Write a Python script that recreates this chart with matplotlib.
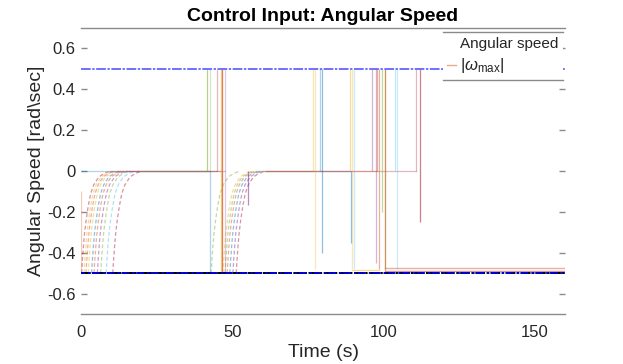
import matplotlib
matplotlib.use("Agg")
import matplotlib.pyplot as plt
from matplotlib.lines import Line2D

plt.rcParams['font.family'] = ['Liberation Sans', 'DejaVu Sans']
plt.rcParams['axes.unicode_minus'] = False
plt.rcParams['mathtext.fontset'] = 'custom'
plt.rcParams['mathtext.rm'] = 'Liberation Sans'
plt.rcParams['mathtext.it'] = 'Liberation Sans:italic'

# MATLAB default colour order
BLUE, ORANGE, YELLOW, PURPLE, GREEN, CYAN, RED = (
    '#0072BD', '#D95319', '#EDB120', '#7E2F8E', '#77AC30', '#4DBEEE', '#A2142F')

# ---------------- data ----------------
T_END = 160.0
W_MAX = 0.5

# shape of a recovery from saturation (offset in s, value in rad/s)
DECAY_DT = [0, 0.3, 0.7, 1.0, 1.5, 2.2, 3.0, 4.0, 5.7, 7.5, 9.5]
DECAY_V = [-0.50, -0.43, -0.35, -0.30, -0.24, -0.17, -0.11, -0.068, -0.029, -0.012, 0.0]

DECAY_START = [0.2, 1.0, 1.65, 2.4, 3.5, 4.3, 5.4, 6.5, 8.3, 10.5,
               43.0, 46.9, 47.6, 48.3, 49.2, 50.2, 51.3]
DECAY_COLOR = [RED, YELLOW, ORANGE, YELLOW, BLUE, ORANGE, PURPLE, GREEN, CYAN, RED,
               GREEN, YELLOW, GREEN, ORANGE, BLUE, PURPLE, RED]

# segments resting at zero
ZERO_T0 = [0.0, 9.7, 12.0, 15.0, 20.0, 56.0, 58.0, 60.0, 61.0]
ZERO_T1 = [42.8, 45.1, 46.4, 47.7, 41.8, 76.6, 89.0, 97.8, 110.7]
ZERO_COLOR = [BLUE, RED, ORANGE, PURPLE, GREEN, YELLOW, BLUE, ORANGE, RED]

# vertical switching jumps
SPIKE_T = [0.0, 41.8, 42.6, 42.8, 45.1, 46.4, 46.7, 47.7, 55.3,
           76.6, 77.4, 79.0, 79.6, 88.9, 89.2, 89.7, 90.2,
           96.1, 97.5, 97.8, 98.6, 99.5, 100.4, 100.6, 103.8, 104.4, 110.7, 112.0]
SPIKE_LO = [-0.50, 0.0, 0.0, -0.50, 0.0, -0.50, -0.50, -0.50, -0.165,
            0.0, -0.48, 0.0, -0.40, 0.0, -0.35, -0.48, -0.48,
            0.0, -0.45, 0.0, -0.48, -0.20, -0.49, -0.48, 0.0, -0.48, 0.0, -0.25]
SPIKE_HI = [-0.10, 0.5, 0.5, 0.0, 0.5, 0.5, 0.5, 0.5, 0.0,
            0.5, 0.5, 0.5, 0.5, 0.5, 0.0, 0.5, 0.5,
            0.5, 0.5, 0.5, 0.5, 0.5, 0.5, 0.5, 0.5, 0.5, 0.5, 0.5]
SPIKE_COLOR = [ORANGE, GREEN, GREEN, BLUE, RED, YELLOW, ORANGE, PURPLE, PURPLE,
               YELLOW, YELLOW, BLUE, BLUE, YELLOW, BLUE, YELLOW, CYAN,
               PURPLE, PURPLE, ORANGE, ORANGE, GREEN, GREEN, ORANGE, CYAN, CYAN, RED, RED]
SPIKE_ALPHA = [0.3, 0.55, 0.3, 0.3, 0.3, 0.55, 0.75, 0.25, 0.55,
               0.35, 0.3, 0.3, 0.45, 0.45, 0.45, 0.3, 0.3,
               0.35, 0.35, 0.45, 0.45, 0.45, 0.4, 0.55, 0.35, 0.3, 0.3, 0.55]

# saturated horizontal stretches
HSEG_T0 = [89.7, 100.4, 100.6]
HSEG_T1 = [98.6, T_END, T_END]
HSEG_V = [-0.483, -0.49, -0.477]
HSEG_COLOR = [YELLOW, RED, ORANGE]

X_TICKS = [0, 50, 100, 150]
Y_TICKS = [-0.6, -0.4, -0.2, 0.0, 0.2, 0.4, 0.6]
Y_TICK_LABELS = ['-0.6', '-0.4', '-0.2', '0', '0.2', '0.4', '0.6']

# ---------------- drawing ----------------
fig = plt.figure(figsize=(6.23, 3.64), dpi=100)
ax = fig.add_axes([81 / 623, 50 / 364, 484 / 623, 286 / 364])

for t0, c in zip(DECAY_START, DECAY_COLOR):
    ax.plot([t0 + d for d in DECAY_DT], DECAY_V, color=c, ls=(0, (3, 2)),
            lw=0.9, alpha=0.45)

for t0, t1, c in zip(ZERO_T0, ZERO_T1, ZERO_COLOR):
    ax.plot([t0, t1], [0, 0], color=c, lw=0.9, alpha=0.3)

for t, lo, hi, c, a in zip(SPIKE_T, SPIKE_LO, SPIKE_HI, SPIKE_COLOR, SPIKE_ALPHA):
    ax.vlines(t, lo, hi, color=c, lw=0.9, alpha=a)

for t0, t1, v, c in zip(HSEG_T0, HSEG_T1, HSEG_V, HSEG_COLOR):
    ax.plot([t0, t1], [v, v], color=c, lw=1.0, alpha=0.45)

ax.plot([0, T_END], [W_MAX, W_MAX], color='#7070ff', ls=(0, (5, 0.8, 1.2, 0.8)), lw=1.4)
ax.plot([0, T_END], [-W_MAX, -W_MAX], color='#000000', ls=(0, (5, 0.8, 1.2, 0.8)), lw=1.4)
ax.plot([0, T_END], [-W_MAX, -W_MAX], color='#0000d0', ls=(2, (4, 1.6, 1.2, 0.8)), lw=1.4)

ax.set_xlim(0, T_END)
ax.set_ylim(-0.7, 0.7)
ax.set_xticks(X_TICKS)
ax.set_xticklabels([str(v) for v in X_TICKS])
ax.set_yticks(Y_TICKS)
ax.set_yticklabels(Y_TICK_LABELS)

for s in ('left', 'right'):
    ax.spines[s].set_visible(False)
for s in ('top', 'bottom'):
    ax.spines[s].set_color('#8a8a8a')
    ax.spines[s].set_linewidth(1.0)

ax.tick_params(axis='y', direction='in', length=4, width=1, color='#8a8a8a',
               left=True, right=True, labelsize=12, labelcolor='#262626', pad=4)
ax.tick_params(axis='x', length=0, labelsize=12, labelcolor='#262626', pad=8)

ax.set_xlabel('Time (s)', fontsize=14, color='#262626', labelpad=3)
ax.set_ylabel('Angular Speed [rad\\sec]', fontsize=14, color='#262626', labelpad=1)
ax.set_title('Control Input: Angular Speed', fontsize=14, fontweight='bold', pad=5)

handles = [Line2D([], [], color='white', lw=1),
           Line2D([], [], color=ORANGE, lw=1, alpha=0.5)]
leg = ax.legend(handles, ['Angular speed', r'$|\omega_{\rm max}|$'],
                loc='upper right', bbox_to_anchor=(0.996, 0.986), borderaxespad=0,
                frameon=True, fancybox=False, edgecolor='none', facecolor='white',
                framealpha=1, handlelength=0.6, handletextpad=0.25, borderpad=0.3,
                labelspacing=0.35, fontsize=11)
for t in leg.get_texts():
    t.set_color('#262626')
leg.get_texts()[1].set_fontsize(12)

fig.canvas.draw()
bb = leg.get_window_extent().transformed(fig.transFigure.inverted())
for yy in (bb.y0, bb.y1):
    fig.add_artist(Line2D([bb.x0, bb.x1], [yy, yy], transform=fig.transFigure,
                          color='#8a8a8a', lw=1.0))

fig.savefig('out.png', dpi=100)
